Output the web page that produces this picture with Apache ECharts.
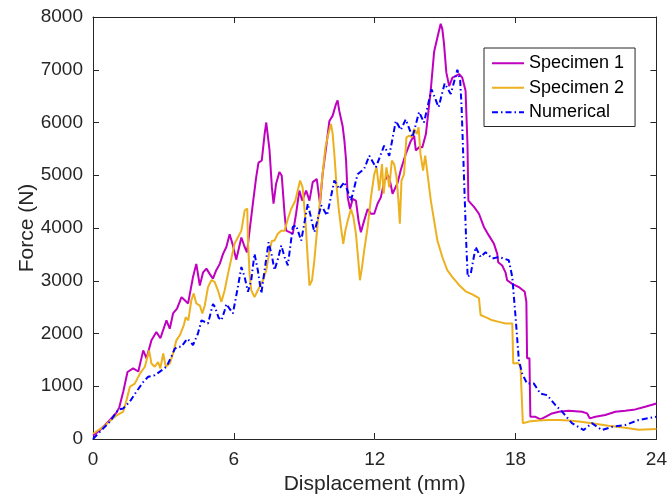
<!DOCTYPE html>
<html>
<head>
<meta charset="utf-8">
<script src="https://cdn.jsdelivr.net/npm/echarts@6/dist/echarts.min.js"></script>
<style>
html,body{margin:0;padding:0;background:#fff;}
#chart{width:670px;height:502px;}
</style>
</head>
<body>
<div id="chart"></div>
<script>
// ---- data ----
var seriesNames = ['Specimen 1', 'Specimen 2', 'Numerical'];
var xTicks = [0, 6, 12, 18, 24];
var yTicks = [0, 1000, 2000, 3000, 4000, 5000, 6000, 7000, 8000];

var specimen1 = [[0,60],[0.3,170],[0.72,360],[1.0,500],[1.12,600],[1.29,900],[1.47,1270],[1.71,1340],[1.93,1280],[2.14,1680],[2.28,1530],[2.49,1870],[2.70,2030],[2.87,1910],[3.13,2250],[3.27,2090],[3.41,2380],[3.58,2470],[3.77,2690],[3.91,2630],[4.05,2570],[4.26,3070],[4.40,3320],[4.55,2910],[4.69,3160],[4.83,3230],[4.97,3130],[5.11,3040],[5.25,3200],[5.40,3320],[5.54,3510],[5.68,3640],[5.82,3880],[5.96,3670],[6.10,3400],[6.32,3820],[6.46,3640],[6.56,3540],[6.67,3950],[6.81,4460],[6.95,4960],[7.05,5240],[7.19,5280],[7.31,5780],[7.38,6000],[7.45,5970],[7.52,5470],[7.62,4770],[7.69,4460],[7.80,4840],[7.94,5060],[8.04,4990],[8.16,4270],[8.23,3950],[8.37,3920],[8.51,3890],[8.65,4270],[8.79,4710],[8.91,4520],[9.08,4710],[9.22,4520],[9.36,4870],[9.53,4930],[9.67,4460],[9.78,5020],[9.93,5530],[10.07,6030],[10.21,6130],[10.35,6350],[10.42,6420],[10.49,6220],[10.63,5940],[10.71,5650],[10.78,5280],[10.85,4580],[10.95,4360],[11.06,4550],[11.20,4520],[11.31,4140],[11.41,3920],[11.55,4140],[11.70,4360],[11.84,4270],[11.98,4270],[12.12,4460],[12.26,4580],[12.40,4870],[12.55,5000],[12.62,4960],[12.76,4650],[12.97,4850],[13.11,5100],[13.32,5400],[13.54,5650],[13.68,5750],[13.75,5470],[13.89,5530],[14.03,5530],[14.18,5780],[14.29,6220],[14.39,6630],[14.53,7340],[14.67,7610],[14.81,7870],[14.88,7770],[14.95,7500],[15.05,6950],[15.17,6690],[15.31,6850],[15.45,6880],[15.59,6920],[15.73,6850],[15.87,6600],[15.95,5600],[15.99,4520],[16.02,4520],[16.23,4400],[16.44,4270],[16.65,4020],[16.86,3860],[17.08,3700],[17.22,3510],[17.26,3350],[17.43,3290],[17.57,3160],[17.64,3010],[17.86,2940],[18.14,2880],[18.39,2790],[18.46,2600],[18.49,1530],[18.59,1530],[18.63,420],[18.85,420],[19.06,370],[19.27,420],[19.55,485],[19.84,517],[20.26,536],[20.83,517],[21.05,485],[21.16,391],[21.40,422],[21.82,454],[22.25,517],[22.67,536],[22.72,505],[23.10,561],[23.52,611],[24.0,674]];

var specimen2 = [[0,100],[0.44,230],[1.01,450],[1.29,520],[1.43,740],[1.57,990],[1.78,1050],[2.00,1240],[2.21,1370],[2.39,1680],[2.49,1430],[2.63,1370],[2.77,1460],[2.87,1340],[2.99,1620],[3.10,1370],[3.27,1430],[3.41,1620],[3.55,1870],[3.70,1970],[3.87,2160],[3.95,2310],[4.06,2250],[4.19,2630],[4.29,2760],[4.40,2570],[4.55,2530],[4.66,2380],[4.76,2530],[4.90,2880],[5.04,3010],[5.18,2980],[5.32,2820],[5.47,2600],[5.61,2820],[5.75,3130],[6.03,3700],[6.32,3950],[6.46,4330],[6.57,4370],[6.60,3760],[6.67,3130],[6.74,2820],[6.88,2690],[7.02,2820],[7.24,3010],[7.38,3200],[7.52,3570],[7.62,3760],[7.73,3760],[7.87,3890],[8.02,3950],[8.16,3950],[8.30,4170],[8.44,4360],[8.62,4520],[8.72,4710],[8.82,4900],[8.93,4770],[9.05,4140],[9.15,3390],[9.22,2910],[9.33,3010],[9.43,3390],[9.53,3890],[9.64,4390],[9.78,5020],[9.90,5530],[10.04,5810],[10.14,5970],[10.21,5780],[10.28,5400],[10.38,4770],[10.46,4390],[10.56,4020],[10.66,3700],[10.75,3950],[10.85,4140],[10.99,4360],[11.09,4210],[11.20,3890],[11.30,3390],[11.37,3010],[11.46,3260],[11.55,3570],[11.70,4020],[11.84,4580],[11.98,5020],[12.08,5150],[12.19,4710],[12.31,5210],[12.38,4650],[12.50,5150],[12.62,4770],[12.73,5280],[12.83,5210],[12.93,4960],[13.01,4520],[13.07,4080],[13.14,4900],[13.25,5020],[13.35,5720],[13.47,5750],[13.58,5720],[13.68,5880],[13.79,5780],[13.87,5910],[13.95,5400],[14.06,5090],[14.15,5370],[14.25,5020],[14.39,4520],[14.53,4140],[14.67,3760],[14.88,3450],[15.09,3200],[15.31,3070],[15.59,2920],[15.87,2800],[16.16,2740],[16.44,2670],[16.51,2350],[16.72,2310],[17.01,2250],[17.29,2220],[17.57,2190],[17.86,2190],[17.90,1430],[18.11,1440],[18.21,1370],[18.31,300],[18.56,330],[18.99,350],[19.41,360],[19.84,360],[20.26,350],[20.69,330],[21.25,300],[21.96,250],[22.67,215],[23.24,175],[24.0,190]];

var numerical = [[0,0],[0.30,140],[0.72,330],[1.08,560],[1.29,580],[1.57,710],[1.85,900],[2.14,1080],[2.35,1180],[2.63,1210],[2.92,1300],[3.13,1370],[3.34,1560],[3.48,1710],[3.62,1750],[3.77,1750],[4.01,1900],[4.15,1850],[4.26,1780],[4.33,1810],[4.47,2000],[4.62,2250],[4.69,2280],[4.90,2190],[5.04,2440],[5.11,2560],[5.20,2500],[5.35,2300],[5.47,2250],[5.61,2440],[5.68,2560],[5.80,2480],[5.96,2380],[6.17,2880],[6.32,3260],[6.46,3070],[6.60,2790],[6.74,3010],[6.88,3510],[7.02,3200],[7.17,2760],[7.31,3200],[7.48,3730],[7.63,3450],[7.73,3200],[7.87,3400],[8.02,3670],[8.16,3450],[8.30,3290],[8.51,4020],[8.65,4050],[8.87,3760],[9.15,4460],[9.43,3920],[9.72,4430],[9.97,4240],[10.28,4900],[10.49,4740],[10.71,4870],[10.99,4520],[11.27,5020],[11.55,5120],[11.77,5370],[12.05,5150],[12.40,5560],[12.62,5370],[12.90,6030],[13.11,5860],[13.32,6060],[13.61,5720],[13.89,6200],[14.10,6000],[14.42,6630],[14.72,6290],[14.98,6740],[15.24,6540],[15.52,7000],[15.64,6800],[15.70,6300],[15.80,5000],[15.90,3700],[15.96,3070],[16.09,3130],[16.30,3640],[16.51,3450],[16.72,3540],[17.01,3420],[17.29,3450],[17.71,3390],[17.86,3070],[18.00,2310],[18.14,1490],[18.28,1240],[18.49,1050],[18.78,1050],[19.06,860],[19.35,830],[19.70,640],[19.98,520],[20.40,300],[20.90,170],[21.25,300],[21.68,170],[22.10,230],[22.67,265],[23.24,360],[24.0,422]];

var colors = ['#BF00BF', '#EDB120', '#0000FF'];

// ---- chart ----
var FONT = "'Liberation Sans', Arial, Helvetica, sans-serif";
var AX = '#262626';
var chart = echarts.init(document.getElementById('chart'), null, {renderer: 'canvas'});

function plain(v) { return String(v); }

function xAx(pos, showLabel, name) {
  return {
    type: 'value', position: pos, min: xTicks[0], max: xTicks[xTicks.length - 1],
    interval: xTicks[1] - xTicks[0],
    name: name, nameLocation: 'middle', nameGap: 35, nameMoveOverlap: false,
    nameTextStyle: {fontFamily: FONT, fontSize: 21, color: AX},
    axisLine: {show: true, onZero: false, lineStyle: {color: AX, width: 1}},
    axisTick: {show: true, inside: true, length: 6, lineStyle: {color: AX, width: 1}},
    axisLabel: {show: showLabel, fontFamily: FONT, fontSize: 19, color: AX, margin: 11, formatter: plain},
    splitLine: {show: false}
  };
}
function yAx(pos, showLabel, name) {
  return {
    type: 'value', position: pos, min: yTicks[0], max: yTicks[yTicks.length - 1],
    interval: yTicks[1] - yTicks[0],
    name: name, nameLocation: 'middle', nameGap: 55, nameMoveOverlap: false,
    nameTextStyle: {fontFamily: FONT, fontSize: 21, color: AX},
    axisLine: {show: true, onZero: false, lineStyle: {color: AX, width: 1}},
    axisTick: {show: true, inside: true, length: 6, lineStyle: {color: AX, width: 1}},
    axisLabel: {show: showLabel, fontFamily: FONT, fontSize: 19, color: AX, margin: 10, formatter: plain},
    splitLine: {show: false}
  };
}

var dataSets = [specimen1, specimen2, numerical];
var series = dataSets.map(function (d, i) {
  return {
    name: seriesNames[i], type: 'line', data: d, symbol: 'none', showSymbol: false, smooth: false,
    xAxisIndex: 0, yAxisIndex: 0, animation: false,
    lineStyle: {
      color: colors[i], width: 2,
      type: i === 2 ? [6, 3, 1.5, 3] : 'solid'
    },
    itemStyle: {color: colors[i]}
  };
});

chart.setOption({
  animation: false,
  backgroundColor: '#ffffff',
  grid: {left: 93, right: 12, top: 17, bottom: 63, containLabel: false},
  xAxis: [xAx('bottom', true, 'Displacement (mm)'), xAx('top', false, '')],
  yAxis: [yAx('left', true, 'Force (N)'), yAx('right', false, '')],
  legend: {
    data: seriesNames, orient: 'vertical', left: 484, top: 48,
    backgroundColor: '#ffffff', borderColor: AX, borderWidth: 1,
    padding: [3, 11, 2, 7], itemGap: 0, itemWidth: 32, itemHeight: 14,
    itemStyle: {opacity: 0},
    textStyle: {fontFamily: FONT, fontSize: 18, color: '#000', lineHeight: 24.5}
  },
  series: series
});
</script>
</body>
</html>
